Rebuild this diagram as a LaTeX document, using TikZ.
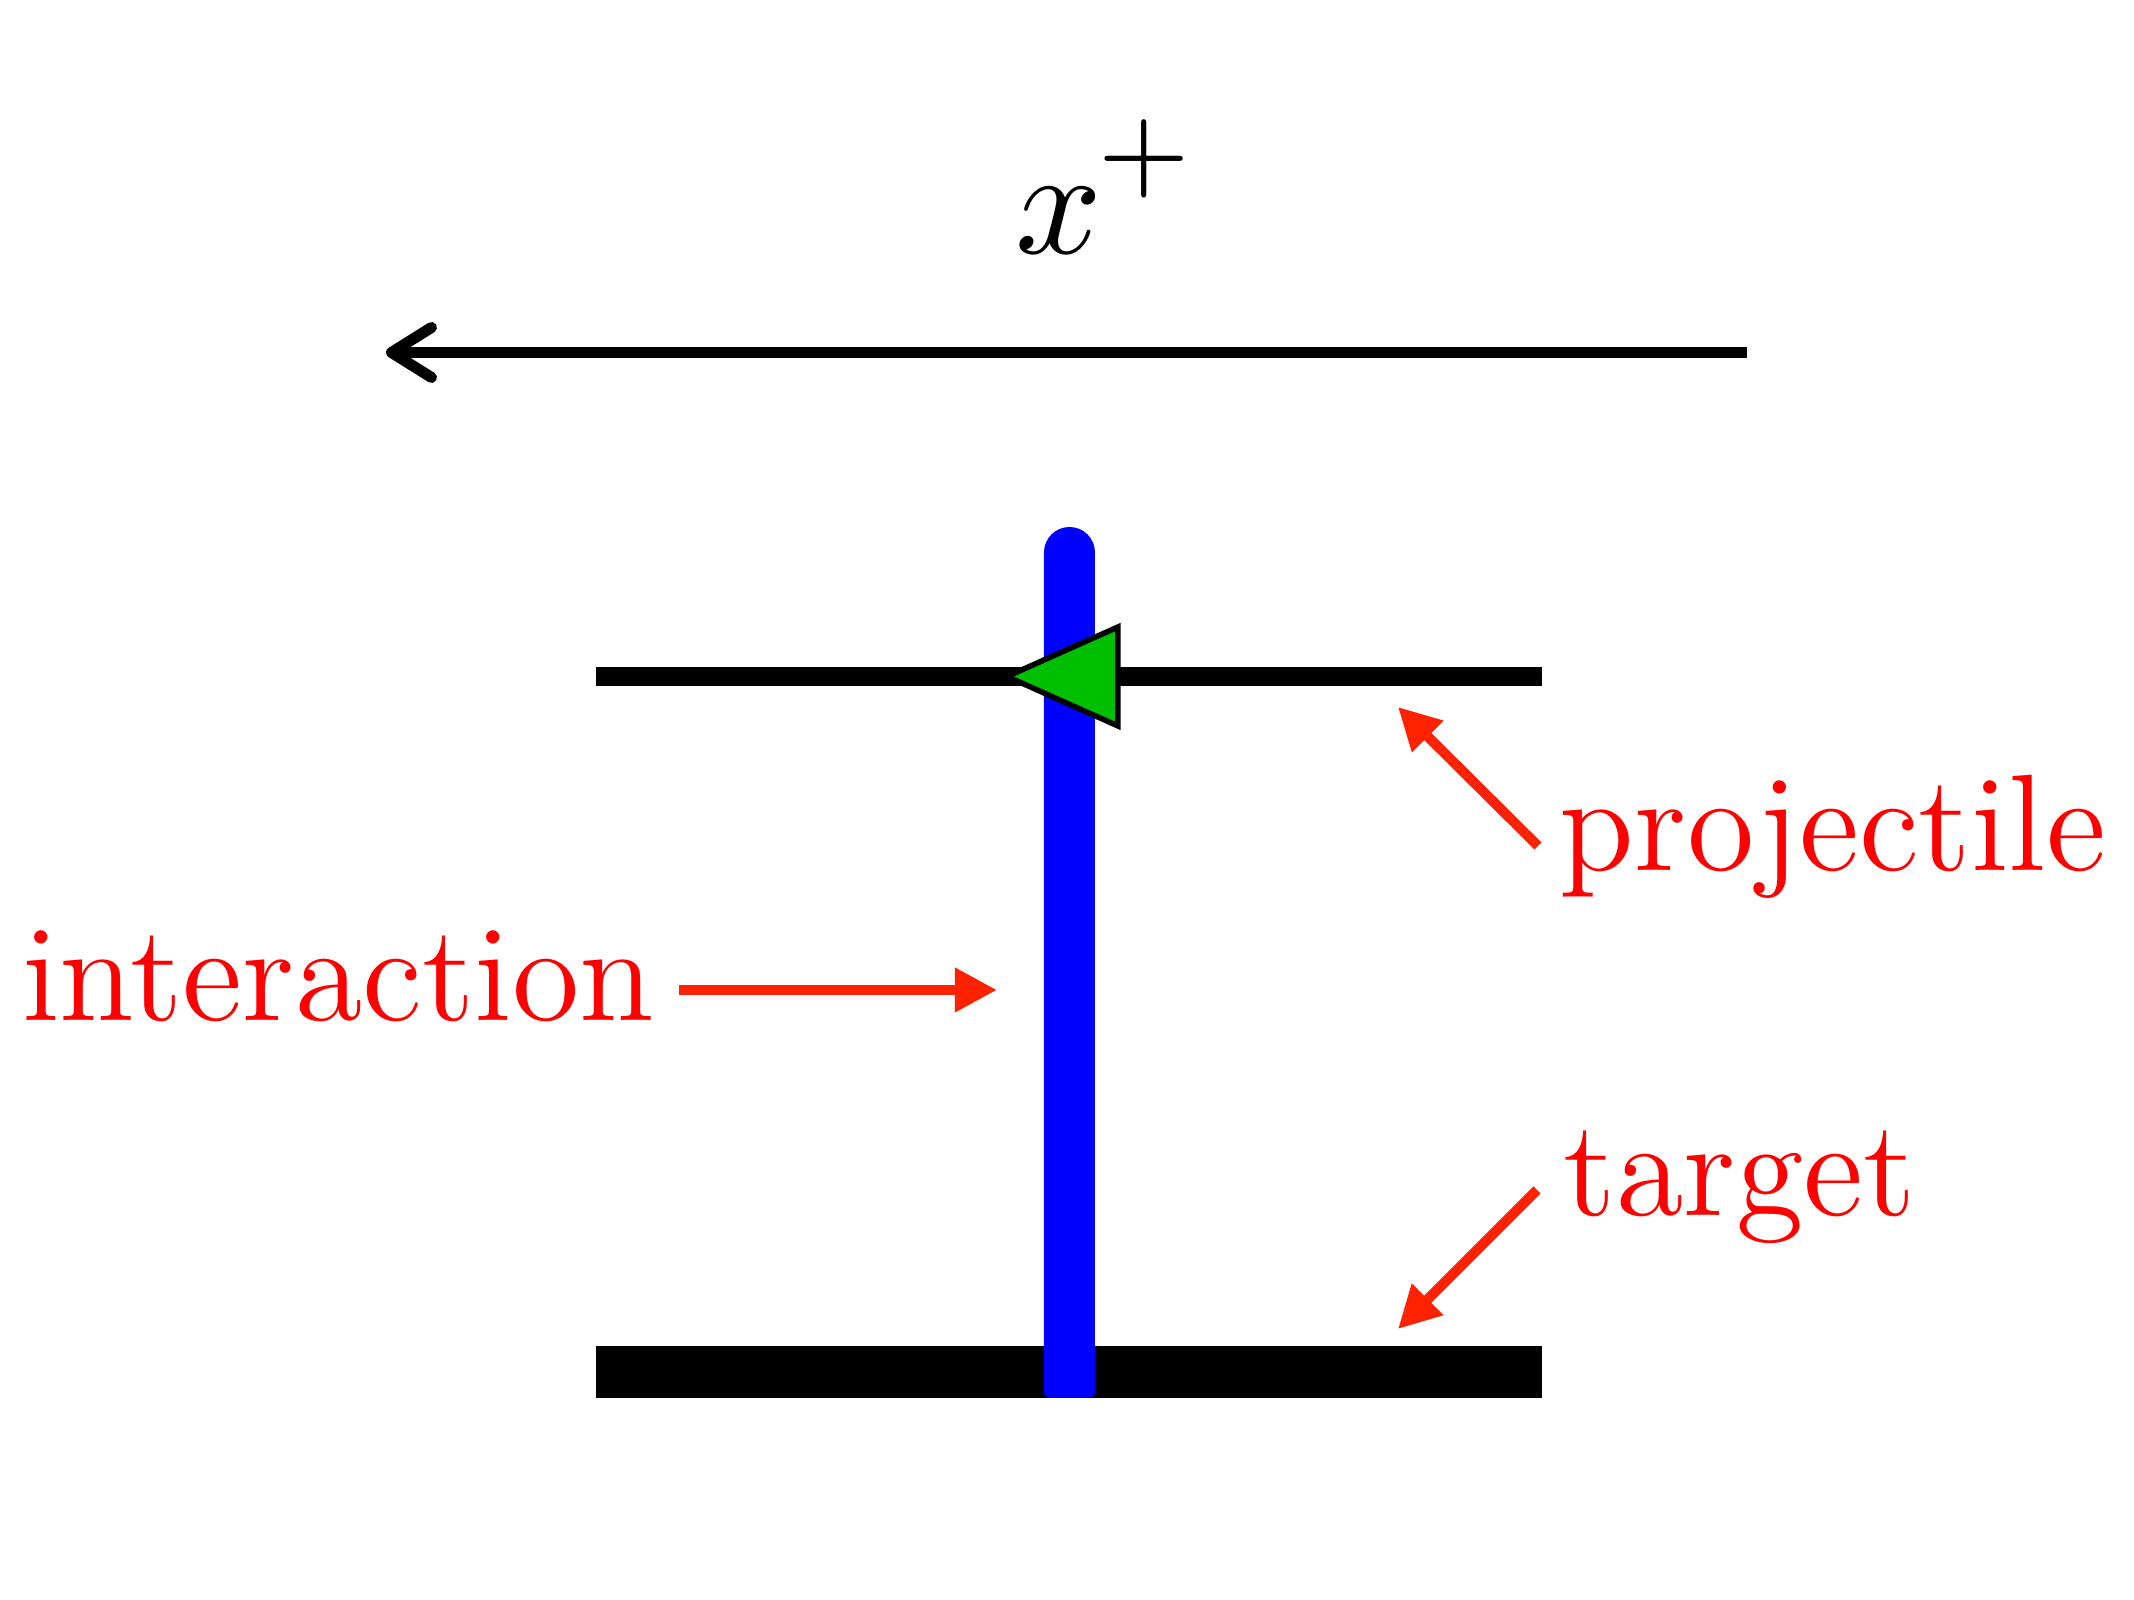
\documentclass[tikz,border=0pt]{standalone}
\usetikzlibrary{arrows.meta}
\definecolor{arrred}{RGB}{255,34,0}
\definecolor{pgreen}{RGB}{0,190,0}
\begin{document}
\begin{tikzpicture}[x=0.1pt,y=-0.1pt,
  redlabel/.style={text=red, font=\fontsize{13.75}{16}\selectfont, inner sep=0pt, anchor=base west},
  pointer/.style={draw=arrred, line width=1pt, -{Triangle[length=4.2pt,width=4.2pt]}},
  axisarrow/.style={draw=black, line width=1.1pt, -{Straight Barb[length=4pt,width=5pt,round]}},
  sheet/.style={draw=black}]
\useasboundingbox (0,0) rectangle (2134,1600);
% axis
\coordinate (axr) at (1747,352.5);
\coordinate (axl) at (386,352.5);
\draw[axisarrow] (axr) -- (axl);
\node[anchor=base west, inner sep=0pt, scale=1.52] (xplus) at (1012,254) {$x^{\kern-0.3pt\raisebox{0.9pt}{$\scriptstyle +$}}$};
% sheets
\coordinate (pl) at (596,676.5); \coordinate (pr) at (1542,676.5);
\coordinate (tl) at (596,1372);  \coordinate (tr) at (1542,1372);
\draw[sheet, line width=1.9pt] (pl) -- (pr);
\draw[sheet, line width=5.2pt] (tl) -- (tr);
% interaction line
\fill[blue] (1069.5,1398) [rounded corners=0.6pt] -- (1095,1398) -- (1095,800) [sharp corners] -- (1095,552.5)
  arc[start angle=0, end angle=-180, radius=25.5] -- (1044,800) [rounded corners=0.6pt] -- (1044,1398) -- cycle;
% green triangle
\filldraw[fill=pgreen, draw=black, line width=0.55pt] (1007,676.5) -- (1118,627) -- (1118,726) -- cycle;
% labels
\node[redlabel] (inter) at (20,1021) {interaction};
\node[redlabel] (proj) at (1558,871) {projectile};
\node[redlabel] (targ) at (1562,1216) {target};
% pointers
\coordinate (ia) at (679,990);   \coordinate (ib) at (997,990);
\coordinate (pa) at (1538,846);  \coordinate (pb) at (1398,707);
\coordinate (ta) at (1537,1190); \coordinate (tb) at (1398,1329);
\draw[pointer] (ia) -- (ib);
\draw[pointer] (pa) -- (pb);
\draw[pointer] (ta) -- (tb);
\end{tikzpicture}
\end{document}
